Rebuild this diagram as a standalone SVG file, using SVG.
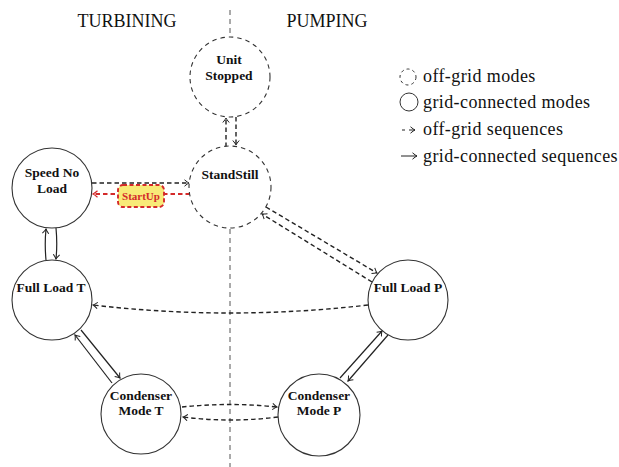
<svg xmlns="http://www.w3.org/2000/svg" width="619" height="467" viewBox="0 0 619 467">
<style>
.bg{fill:#fff}
.node{fill:#fff;stroke:#333;stroke-width:1.1}
.off{stroke-dasharray:4.5 4}
.lbl{font-family:"Liberation Serif",serif;font-weight:bold;font-size:13.5px;fill:#111;text-anchor:middle}
.head{font-family:"Liberation Serif",serif;font-size:18px;fill:#111;text-anchor:middle}
.leg{font-family:"Liberation Serif",serif;font-size:18px;fill:#111;letter-spacing:0.4px}
.sep{stroke:#555;stroke-width:1;stroke-dasharray:5 4;fill:none}
.c{fill:none;stroke:#222;stroke-width:1.2}
.d{stroke-dasharray:4.5 3;stroke-width:1.4}
.red{stroke:#d42a2a;stroke-width:1.9}
</style>
<defs>
<marker id="ah" viewBox="-5 -4 6 8" refX="0" refY="0" markerWidth="6" markerHeight="8" orient="auto" markerUnits="userSpaceOnUse">
<path d="M-4.5,-3.2 Q-1.5,-0.6 0,0 Q-1.5,0.6 -4.5,3.2" fill="none" stroke="#222" stroke-width="1"/>
</marker>
<marker id="ahr" viewBox="-5 -4 6 8" refX="0" refY="0" markerWidth="6" markerHeight="8" orient="auto" markerUnits="userSpaceOnUse">
<path d="M-4.5,-3.2 Q-1.5,-0.6 0,0 Q-1.5,0.6 -4.5,3.2" fill="none" stroke="#d42a2a" stroke-width="1.3"/>
</marker>
</defs>
<rect class="bg" x="0" y="0" width="619" height="467"/>

<g id="separator">
<path class="sep" d="M230,10 L230,35 M230,229 L230,467"/>
</g>

<g id="headings">
<text class="head" x="127" y="27">TURBINING</text>
<text class="head" x="327" y="27">PUMPING</text>
</g>

<g id="legend">
<circle cx="408" cy="77" r="8" fill="none" stroke="#333" stroke-width="1" stroke-dasharray="3 3"/>
<text class="leg" x="423" y="82">off-grid modes</text>
<circle cx="409" cy="102" r="9" fill="none" stroke="#333" stroke-width="1"/>
<text class="leg" x="423" y="108">grid-connected modes</text>
<path d="M402,130 L405,130 M409,130 L415,130" fill="none" stroke="#222" stroke-width="1" marker-end="url(#ah)"/>
<text class="leg" x="423" y="135">off-grid sequences</text>
<path d="M401,156 L417,156" fill="none" stroke="#222" stroke-width="1" marker-end="url(#ah)"/>
<text class="leg" x="423" y="162">grid-connected sequences</text>
</g>

<g id="connectors">
<path class="c d" d="M236,117 L236,145" marker-end="url(#ah)"/>
<path class="c d" d="M226,147 L226,118" marker-end="url(#ah)"/>
<path class="c d" d="M92,183 L189,183" marker-end="url(#ah)"/>
<path class="c d red" d="M190,194 L93,194" marker-end="url(#ahr)"/>
<path class="c d" d="M266,207 L377,273" marker-end="url(#ah)"/>
<path class="c d" d="M372,282 L262,214" marker-end="url(#ah)"/>
<path class="c" d="M46,260 Q44.5,244 46,229" marker-end="url(#ah)"/>
<path class="c" d="M56,228 Q57.5,244 56,259" marker-end="url(#ah)"/>
<path class="c d" d="M368,305 Q230,321 93,305" marker-end="url(#ah)"/>
<path class="c" d="M112,383 L75,335" marker-end="url(#ah)"/>
<path class="c" d="M81,330 L120,378" marker-end="url(#ah)"/>
<path class="c" d="M340,378 L382,331" marker-end="url(#ah)"/>
<path class="c" d="M388,335 L348,381" marker-end="url(#ah)"/>
<path class="c d" d="M182,407 Q230,402 277,407" marker-end="url(#ah)"/>
<path class="c d" d="M278,417 Q230,423 183,417" marker-end="url(#ah)"/>
</g>

<g id="startup-label">
<rect x="118" y="185" width="46" height="22" rx="5" fill="#f8ea78" stroke="#d42a2a" stroke-width="1.9" stroke-dasharray="4 2.5"/>
<text x="141" y="200" font-family="'Liberation Serif',serif" font-weight="bold" font-size="11" fill="#d42a2a" text-anchor="middle">StartUp</text>
</g>

<g id="unit-stopped">
<circle class="node off" cx="230" cy="77" r="40"/>
<text class="lbl" x="229" y="64">Unit</text>
<text class="lbl" x="229" y="80">Stopped</text>
</g>

<g id="standstill">
<circle class="node off" cx="230" cy="187" r="41"/>
<text class="lbl" x="230" y="179">StandStill</text>
</g>

<g id="speed-no-load">
<circle class="node" cx="52" cy="188" r="40"/>
<text class="lbl" x="52" y="177">Speed No</text>
<text class="lbl" x="52" y="193">Load</text>
</g>

<g id="full-load-t">
<circle class="node" cx="52" cy="300" r="40"/>
<text class="lbl" x="51" y="292">Full Load T</text>
</g>

<g id="full-load-p">
<circle class="node" cx="408" cy="300" r="40"/>
<text class="lbl" x="408" y="292">Full Load P</text>
</g>

<g id="condenser-mode-t">
<circle class="node" cx="141" cy="414" r="40"/>
<text class="lbl" x="141" y="400">Condenser</text>
<text class="lbl" x="141" y="415">Mode T</text>
</g>

<g id="condenser-mode-p">
<circle class="node" cx="319" cy="415" r="41"/>
<text class="lbl" x="319" y="400">Condenser</text>
<text class="lbl" x="319" y="415">Mode P</text>
</g>
</svg>
